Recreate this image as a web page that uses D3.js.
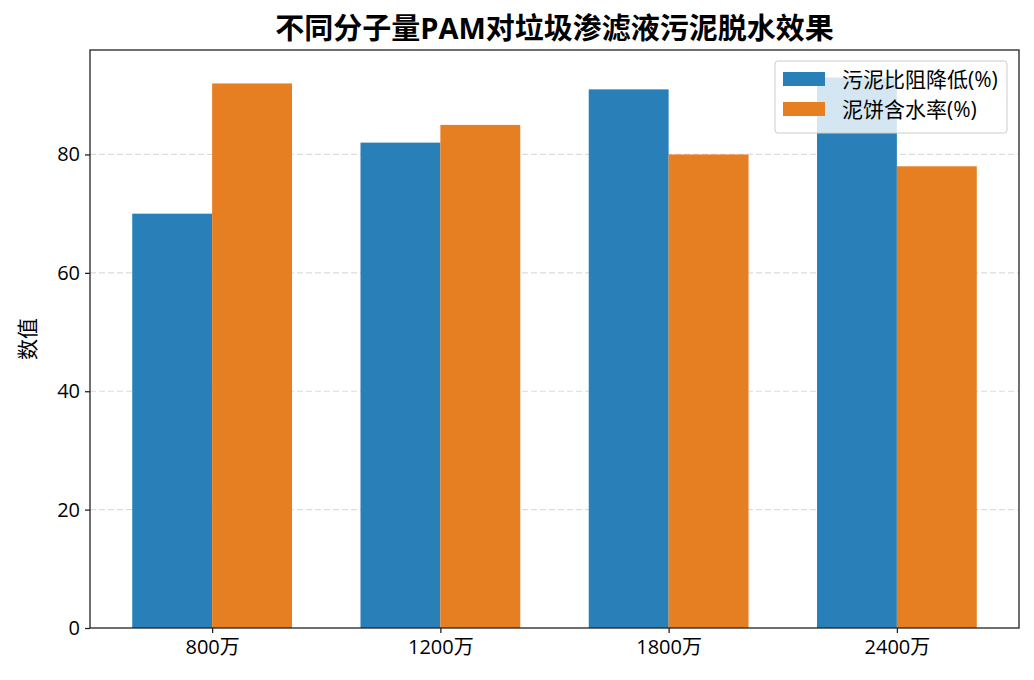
<!DOCTYPE html>
<html>
<head>
<meta charset="utf-8">
<script src="https://cdn.jsdelivr.net/npm/d3@7"></script>
<style>
  body { margin: 0; background: #fff; }
  text { font-family: "Open Sans", "Noto Sans CJK SC", sans-serif; }
</style>
</head>
<body>
<script>
var w = 1034;
var h = 680;

// data
var categories = ["800万", "1200万", "1800万", "2400万"];
var seriesNames = ["污泥比阻降低(%)", "泥饼含水率(%)"];
var resistanceDrop = [70, 82, 91, 93];
var cakeMoisture = [92, 85, 80, 78];
var yTicks = [0, 20, 40, 60, 80];
var colors = ["#2980B9", "#E67E22"];

var margin = {top: 50, right: 15, bottom: 52, left: 90};
var iw = w - margin.left - margin.right;
var ih = h - margin.top - margin.bottom;

var svg = d3.select("body")
    .append("svg")
    .attr("width", w)
    .attr("height", h);

var g = svg.append("g")
    .attr("transform", "translate(" + margin.left + "," + margin.top + ")");

// x in category units, like matplotlib with 5% margins
var barW = 0.35;
var x = d3.scaleLinear()
    .domain([-barW - 0.185, categories.length - 1 + barW + 0.185])
    .range([0, iw]);

var y = d3.scaleLinear()
    .domain([0, 93 * 1.05])
    .range([ih, 0]);

// grid
g.selectAll("line.grid")
    .data(yTicks.slice(1))
    .enter()
    .append("line")
    .attr("class", "grid")
    .attr("x1", 0)
    .attr("x2", iw)
    .attr("y1", function (d) { return y(d); })
    .attr("y2", function (d) { return y(d); })
    .style("stroke", "#dcdcdc")
    .style("stroke-width", 1.2)
    .style("stroke-dasharray", "6,3");

// bars
var series = [resistanceDrop, cakeMoisture];
series.forEach(function (vals, s) {
    g.selectAll("rect.s" + s)
        .data(vals)
        .enter()
        .append("rect")
        .attr("class", "s" + s)
        .attr("x", function (d, i) { return x(i + (s === 0 ? -barW : 0)); })
        .attr("width", x(barW) - x(0))
        .attr("y", function (d) { return y(d); })
        .attr("height", function (d) { return ih - y(d); })
        .style("fill", colors[s]);
});

// axes
var xAxis = d3.axisBottom(x)
    .tickValues(d3.range(categories.length))
    .tickFormat(function (d) { return categories[d]; })
    .tickSizeOuter(0)
    .tickSize(5)
    .tickPadding(7);

var yAxis = d3.axisLeft(y)
    .tickValues(yTicks)
    .tickSizeOuter(0)
    .tickSize(5)
    .tickPadding(5);

var xg = g.append("g")
    .attr("transform", "translate(0," + ih + ")")
    .call(xAxis);
var yg = g.append("g").call(yAxis);

[xg, yg].forEach(function (ax) {
    ax.select(".domain").remove();
    ax.selectAll(".tick line").style("stroke", "#222").style("stroke-width", 1.3);
    ax.selectAll(".tick text")
        .style("font-family", "'Open Sans', 'Noto Sans CJK SC', sans-serif")
        .style("font-size", "20px")
        .style("fill", "#000");
});

// frame
g.append("rect")
    .attr("width", iw)
    .attr("height", ih)
    .style("fill", "none")
    .style("stroke", "#222")
    .style("stroke-width", 1.3);

// labels
svg.append("text")
    .attr("x", margin.left + iw / 2)
    .attr("y", 39)
    .attr("text-anchor", "middle")
    .style("font-size", "29px")
    .style("font-weight", "bold")
    .text("不同分子量PAM对垃圾渗滤液污泥脱水效果");

svg.append("text")
    .attr("transform", "translate(35," + (margin.top + ih / 2) + ") rotate(-90)")
    .attr("text-anchor", "middle")
    .style("font-size", "21px")
    .text("数值");

// legend
var lg = svg.append("g")
    .attr("transform", "translate(775,61)");
lg.append("rect")
    .attr("width", 232)
    .attr("height", 72)
    .attr("rx", 3)
    .style("fill", "rgba(255,255,255,0.8)")
    .style("stroke", "#ccc");

seriesNames.forEach(function (name, i) {
    lg.append("rect")
        .attr("x", 8)
        .attr("y", 11 + i * 30)
        .attr("width", 42)
        .attr("height", 14)
        .style("fill", colors[i]);
    lg.append("text")
        .attr("x", 67)
        .attr("y", 26 + i * 30)
        .style("font-size", "21px")
        .text(name);
});
</script>
</body>
</html>
